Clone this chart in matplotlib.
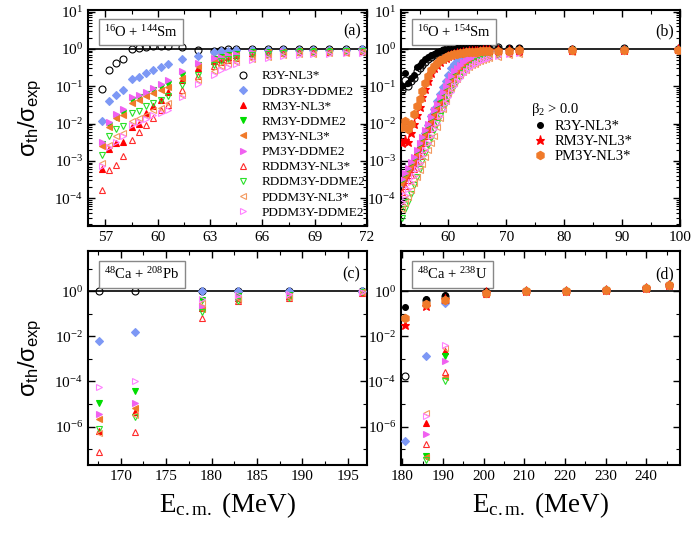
import numpy as np
import matplotlib
matplotlib.use('Agg')
import matplotlib.pyplot as plt
from matplotlib.ticker import LogLocator, MultipleLocator, NullFormatter

nan = np.nan

# ---------------- panel (a): 16O + 144Sm ----------------
E_a = [56.8, 57.2, 57.6, 58.0, 58.5, 58.9, 59.3, 59.7, 60.2, 60.6, 61.4, 62.3,
       63.2, 63.6, 64.0, 64.5, 65.4, 66.3, 67.2, 68.1, 68.9, 69.8, 70.8, 71.7]
a_r3y_nl3 = [0.083, 0.27, 0.43, 0.53, 1.0, 1.05, 1.1, 1.18, 1.2, 1.18, 1.1, 0.92,
             0.88, 0.95, 1.0, 1.0, 1.0, 1.0, 1.0, 1.0, 1.0, 1.0, 1.0, 1.0]
a_ddr3y_ddme2 = [0.012, 0.039, 0.059, 0.080, 0.158, 0.18, 0.22, 0.27, 0.32, 0.39, 0.54, 0.66,
                 0.81, 0.88, 0.90, 0.92, 0.93, 0.94, 0.95, 0.95, 0.96, 0.96, 0.96, 0.97]
a_rm3y_nl3 = [6e-4, 2.1e-3, 3.1e-3, 3.3e-3, 8.3e-3, 0.010, 0.019, 0.030, 0.043, 0.068, 0.148, 0.30,
              0.48, 0.54, 0.62, 0.68, 0.76, 0.80, 0.83, 0.85, 0.86, 0.87, 0.88, 0.89]
a_rm3y_ddme2 = [2.8e-3, 9e-3, 0.015, 0.019, 0.043, 0.051, 0.062, 0.080, 0.094, 0.115, 0.20, 0.37,
                0.53, 0.60, 0.68, 0.72, 0.80, 0.83, 0.85, 0.87, 0.88, 0.89, 0.90, 0.90]
a_pm3y_nl3 = [2.5e-3, 8.3e-3, 0.014, 0.017, 0.035, 0.043, 0.053, 0.065, 0.077, 0.094, 0.17, 0.34,
              0.50, 0.56, 0.64, 0.70, 0.78, 0.82, 0.84, 0.86, 0.87, 0.88, 0.89, 0.90]
a_pm3y_ddme2 = [3.3e-3, 0.011, 0.018, 0.024, 0.050, 0.059, 0.072, 0.092, 0.113, 0.148, 0.26, 0.41,
                0.56, 0.62, 0.70, 0.75, 0.82, 0.85, 0.87, 0.88, 0.89, 0.90, 0.90, 0.91]
a_rddm3y_nl3 = [1.7e-4, 5.7e-4, 7.8e-4, 1.35e-3, 3.6e-3, 6.1e-3, 9e-3, 0.014, 0.023, 0.032, 0.080, 0.19,
                0.34, 0.44, 0.50, 0.56, 0.66, 0.72, 0.77, 0.80, 0.82, 0.84, 0.85, 0.86]
a_rddm3y_ddme2 = [1.4e-3, 4.5e-3, 7.2e-3, 8.7e-3, 0.019, 0.022, 0.029, 0.035, 0.043, 0.053, 0.11, 0.20,
                  0.37, 0.46, 0.52, 0.58, 0.68, 0.74, 0.78, 0.80, 0.82, 0.84, 0.86, 0.87]
a_pddm3y_nl3 = [9e-4, 2.7e-3, 4.5e-3, 5.7e-3, 0.012, 0.014, 0.017, 0.023, 0.026, 0.035, 0.058, 0.15,
                0.25, 0.34, 0.40, 0.45, 0.55, 0.62, 0.68, 0.72, 0.75, 0.77, 0.79, 0.80]
a_pddm3y_ddme2 = [7.5e-4, 2.4e-3, 3.3e-3, 4.5e-3, 9e-3, 0.011, 0.013, 0.017, 0.019, 0.023, 0.050, 0.115,
                  0.20, 0.27, 0.33, 0.40, 0.50, 0.58, 0.64, 0.68, 0.72, 0.74, 0.76, 0.78]

# ---------------- panel (b): 16O + 154Sm ----------------
E_b = [52.0, 52.5, 53.0, 53.5, 54.0, 54.5, 55.0, 55.5, 56.0, 56.5, 57.0, 57.5,
       58.0, 58.5, 59.0, 59.5, 60.0, 60.5, 61.0, 61.5, 62.0, 62.5, 63.0, 63.5,
       64.0, 64.5, 65.0, 65.5, 66.0, 66.5, 67.0, 68.6, 70.4, 72.2, 81.4, 90.4, 99.6]
b_r3y_nl3 = [0.08, 0.15, 0.10, 0.14, 0.17, 0.25, 0.30, 0.38, 0.45, 0.52, 0.60, 0.68,
             0.76, 0.85, 0.92, 0.98, 1.03, 1.06, 1.08, 1.10, 1.12, 1.12, 1.13, 1.14,
             1.14, 1.15, 1.15, 1.14, 1.14, 1.13, 1.13, 1.10, 1.06, 1.08, 1.02, 1.03, 1.01]
b_ddr3y_ddme2 = [2.5e-4, 3.5e-4, 5e-4, 6.5e-4, 8.5e-4, 1.3e-3, 2.2e-3, 3.5e-3, 5.5e-3, 9e-3, 0.016, 0.025,
                 0.04, 0.06, 0.095, 0.14, 0.20, 0.30, 0.40, 0.48, 0.56, 0.62, 0.68, 0.72,
                 0.76, 0.79, 0.81, 0.83, 0.85, 0.86, 0.87, 0.90, 0.91, 0.92, 0.94, 0.96, 0.97]
b_rm3y_nl3 = [3e-4, 4.2e-4, 6e-4, 8.5e-4, 1.2e-3, 1.8e-3, 2.7e-3, 4e-3, 6e-3, 9e-3, 0.014, 0.021,
              0.031, 0.045, 0.065, 0.09, 0.125, 0.17, 0.23, 0.29, 0.36, 0.42, 0.48, 0.54,
              0.59, 0.63, 0.67, 0.70, 0.73, 0.75, 0.77, 0.82, 0.86, 0.88, 0.92, 0.94, 0.95]
b_rm3y_ddme2 = [2.7e-4, 3.8e-4, 5.4e-4, 7.7e-4, 1.1e-3, 1.6e-3, 2.4e-3, 3.6e-3, 5.4e-3, 8.1e-3, 0.0126, 0.019,
                0.028, 0.041, 0.059, 0.082, 0.115, 0.16, 0.21, 0.27, 0.34, 0.40, 0.46, 0.52,
                0.57, 0.61, 0.65, 0.68, 0.71, 0.73, 0.75, 0.81, 0.85, 0.87, 0.91, 0.93, 0.95]
b_pm3y_nl3 = [2.4e-4, 3.4e-4, 4.8e-4, 6.8e-4, 9.6e-4, 1.4e-3, 2.2e-3, 3.2e-3, 4.8e-3, 7.2e-3, 0.011, 0.017,
              0.025, 0.036, 0.052, 0.073, 0.10, 0.14, 0.19, 0.25, 0.31, 0.37, 0.43, 0.49,
              0.54, 0.58, 0.62, 0.66, 0.69, 0.72, 0.74, 0.80, 0.84, 0.86, 0.90, 0.93, 0.94]
b_pm3y_ddme2 = [3.3e-4, 4.6e-4, 6.6e-4, 9.4e-4, 1.3e-3, 2e-3, 3e-3, 4.4e-3, 6.6e-3, 9.9e-3, 0.015, 0.023,
                0.034, 0.05, 0.071, 0.099, 0.137, 0.19, 0.25, 0.31, 0.38, 0.44, 0.50, 0.56,
                0.61, 0.65, 0.69, 0.72, 0.74, 0.76, 0.78, 0.83, 0.87, 0.89, 0.92, 0.94, 0.96]
b_rddm3y_nl3 = [1.5e-4, 2.1e-4, 3e-4, 4.2e-4, 6e-4, 9e-4, 1.35e-3, 2e-3, 3e-3, 4.5e-3, 7e-3, 0.0105,
                0.016, 0.023, 0.034, 0.048, 0.068, 0.095, 0.13, 0.17, 0.22, 0.27, 0.32, 0.37,
                0.42, 0.47, 0.51, 0.55, 0.58, 0.61, 0.64, 0.72, 0.78, 0.82, 0.88, 0.91, 0.93]
b_rddm3y_ddme2 = [3e-5, 5e-5, 8e-5, 1.3e-4, 2.2e-4, 3.6e-4, 6e-4, 1e-3, 1.6e-3, 2.6e-3, 4.2e-3, 6.7e-3,
                  0.0105, 0.016, 0.024, 0.036, 0.052, 0.075, 0.10, 0.14, 0.18, 0.23, 0.28, 0.33,
                  0.38, 0.43, 0.47, 0.51, 0.55, 0.58, 0.61, 0.70, 0.76, 0.80, 0.87, 0.90, 0.92]
b_pddm3y_nl3 = [5e-5, 7.5e-5, 1.1e-4, 1.7e-4, 2.5e-4, 3.8e-4, 5.7e-4, 8.5e-4, 1.3e-3, 2e-3, 3e-3, 4.5e-3,
                8e-3, 0.014, 0.025, 0.04, 0.065, 0.09, 0.12, 0.16, 0.20, 0.24, 0.28, 0.32,
                0.36, 0.40, 0.44, 0.47, 0.50, 0.53, 0.56, 0.62, 0.70, 0.75, 0.84, 0.88, 0.90]
b_pddm3y_ddme2 = [8e-5, 1.2e-4, 1.8e-4, 2.7e-4, 4e-4, 6e-4, 9e-4, 1.35e-3, 2e-3, 3e-3, 4.6e-3, 7e-3,
                  0.0105, 0.016, 0.024, 0.035, 0.05, 0.072, 0.10, 0.135, 0.17, 0.21, 0.26, 0.30,
                  0.35, 0.39, 0.43, 0.47, 0.51, 0.54, 0.57, 0.66, 0.73, 0.78, 0.86, 0.89, 0.91]
# beta2 > 0 (deformed target)
b_def_r3y_nl3 = [0.10, 0.22, 0.12, 0.17, 0.20, 0.33, 0.38, 0.45, 0.52, 0.60, 0.68, 0.75,
                 0.82, 0.88, 0.92, 0.95, 0.98, 1.00, 1.02, 1.03, 1.05, 1.05, 1.06, 1.07,
                 1.07, 1.08, 1.08, 1.08, 1.08, 1.08, 1.08, 1.08, 1.05, 1.07, 1.00, 1.02, 1.00]
b_def_rm3y_nl3 = [3e-3, 3.6e-3, 3.2e-3, 5.5e-3, 0.010, 0.017, 0.028, 0.05, 0.085, 0.14, 0.22, 0.30,
                  0.38, 0.45, 0.52, 0.58, 0.63, 0.68, 0.72, 0.76, 0.79, 0.82, 0.84, 0.86,
                  0.88, 0.89, 0.90, 0.90, 0.91, 0.91, 0.92, 0.93, 0.93, 0.94, 0.95, 0.96, 0.97]
b_def_pm3y_nl3 = [8e-3, 0.012, 7e-3, 0.010, 0.018, 0.03, 0.045, 0.075, 0.12, 0.19, 0.27, 0.35,
                  0.43, 0.50, 0.55, 0.60, 0.64, 0.68, 0.71, 0.74, 0.76, 0.78, 0.80, 0.82,
                  0.83, 0.84, 0.85, 0.86, 0.87, 0.87, 0.88, 0.90, 0.90, 0.92, 0.93, 0.95, 0.96]

# ---------------- panel (c): 48Ca + 208Pb ----------------
E_c = [167.6, 171.6, 178.9, 182.9, 188.5, 196.5]
c_r3y_nl3 = [1.05, 1.0, 1.0, 1.02, 1.0, 1.0]
c_ddr3y_ddme2 = [5.9e-3, 0.016, 0.98, 0.98, 0.97, 0.98]
c_rm3y_nl3 = [6.4e-7, 4.6e-6, 0.18, 0.48, 0.62, 0.90]
c_rm3y_ddme2 = [1.1e-5, 3.6e-5, 0.39, 0.60, 0.70, 0.92]
c_pm3y_nl3 = [2.1e-6, 6.6e-6, 0.16, 0.45, 0.60, 0.90]
c_pm3y_ddme2 = [3.8e-6, 1.1e-5, 0.23, 0.55, 0.66, 0.92]
c_rddm3y_nl3 = [7.4e-8, 6e-7, 0.067, 0.35, 0.50, 0.85]
c_rddm3y_ddme2 = [7.6e-7, 2.8e-6, 0.12, 0.38, 0.52, 0.88]
c_pddm3y_nl3 = [5e-7, 3.2e-6, 0.30, 0.50, 0.55, 0.88]
c_pddm3y_ddme2 = [5.6e-5, 1e-4, 0.43, 0.65, 0.72, 0.93]

# ---------------- panel (d): 48Ca + 238U ----------------
E_d = [180.7, 185.8, 190.6, 200.5, 210.4, 220.3, 230.2, 239.9, 245.5]
d_r3y_nl3 = [1.8e-4, 0.42, 0.60, 0.92, 1.0, 1.0, 1.1, 1.35, 1.9]
d_ddr3y_ddme2 = [2.2e-7, 1.4e-3, 0.30, 0.88, 1.0, 1.0, 1.1, 1.35, 1.9]
d_rm3y_nl3 = [nan, 1.4e-6, 2.2e-3, 0.80, 0.98, 1.0, 1.08, 1.33, 1.85]
d_rm3y_ddme2 = [nan, 5e-8, 1.4e-3, 0.80, 0.98, 1.0, 1.08, 1.33, 1.85]
d_pm3y_nl3 = [nan, 4.5e-8, 1.5e-4, 0.80, 0.98, 1.0, 1.08, 1.33, 1.85]
d_pm3y_ddme2 = [nan, 4.8e-7, 8e-4, 0.80, 0.98, 1.0, 1.08, 1.33, 1.85]
d_rddm3y_nl3 = [nan, 1.7e-7, 2.7e-4, 0.78, 0.97, 1.0, 1.07, 1.32, 1.85]
d_rddm3y_ddme2 = [nan, 3.2e-8, 1.1e-4, 0.78, 0.97, 1.0, 1.07, 1.32, 1.85]
d_pddm3y_nl3 = [nan, 4e-6, 3e-3, 0.80, 0.97, 1.0, 1.07, 1.32, 1.85]
d_pddm3y_ddme2 = [nan, 2.9e-6, 4e-3, 0.80, 0.97, 1.0, 1.07, 1.32, 1.85]
d_def_r3y_nl3 = [0.20, 0.47, 0.71, 1.0, 1.0, 1.0, 1.1, 1.35, 1.9]
d_def_rm3y_nl3 = [0.032, 0.22, 0.45, 0.90, 1.0, 1.0, 1.1, 1.35, 1.9]
d_def_pm3y_nl3 = [0.063, 0.28, 0.40, 0.85, 1.0, 1.0, 1.1, 1.35, 1.9]

names = ['R3Y-NL3*', 'DDR3Y-DDME2', 'RM3Y-NL3*', 'RM3Y-DDME2', 'PM3Y-NL3*',
         'PM3Y-DDME2', 'RDDM3Y-NL3*', 'RDDM3Y-DDME2', 'PDDM3Y-NL3*', 'PDDM3Y-DDME2']
def_names = ['R3Y-NL3*', 'RM3Y-NL3*', 'PM3Y-NL3*']

styles = [
    dict(marker='o', mfc='none', mec='k', ms=5),
    dict(marker='D', mfc='#7d98f5', mec='#7d98f5', ms=4.2),
    dict(marker='^', mfc='#ff0000', mec='#ff0000', ms=5),
    dict(marker='v', mfc='#00dd00', mec='#00dd00', ms=5),
    dict(marker='<', mfc='#f07a2a', mec='#f07a2a', ms=5),
    dict(marker='>', mfc='#f060f0', mec='#f060f0', ms=5),
    dict(marker='^', mfc='none', mec='#ff2a2a', ms=5),
    dict(marker='v', mfc='none', mec='#2ae02a', ms=5),
    dict(marker='<', mfc='none', mec='#f39a60', ms=5),
    dict(marker='>', mfc='none', mec='#ff80ff', ms=5),
]
def_styles = [
    dict(marker='o', mfc='k', mec='k', ms=4.2),
    dict(marker='*', mfc='#ff0000', mec='#ff0000', ms=6.5),
    dict(marker='h', mfc='#f07a2a', mec='#f07a2a', ms=6),
]

panels = [
    (E_a, [a_r3y_nl3, a_ddr3y_ddme2, a_rm3y_nl3, a_rm3y_ddme2, a_pm3y_nl3, a_pm3y_ddme2,
           a_rddm3y_nl3, a_rddm3y_ddme2, a_pddm3y_nl3, a_pddm3y_ddme2], None),
    (E_b, [b_r3y_nl3, b_ddr3y_ddme2, b_rm3y_nl3, b_rm3y_ddme2, b_pm3y_nl3, b_pm3y_ddme2,
           b_rddm3y_nl3, b_rddm3y_ddme2, b_pddm3y_nl3, b_pddm3y_ddme2],
     [b_def_r3y_nl3, b_def_rm3y_nl3, b_def_pm3y_nl3]),
    (E_c, [c_r3y_nl3, c_ddr3y_ddme2, c_rm3y_nl3, c_rm3y_ddme2, c_pm3y_nl3, c_pm3y_ddme2,
           c_rddm3y_nl3, c_rddm3y_ddme2, c_pddm3y_nl3, c_pddm3y_ddme2], None),
    (E_d, [d_r3y_nl3, d_ddr3y_ddme2, d_rm3y_nl3, d_rm3y_ddme2, d_pm3y_nl3, d_pm3y_ddme2,
           d_rddm3y_nl3, d_rddm3y_ddme2, d_pddm3y_nl3, d_pddm3y_ddme2],
     [d_def_r3y_nl3, d_def_rm3y_nl3, d_def_pm3y_nl3]),
]
reactions = [r'$^{16}$O + $^{144}$Sm', r'$^{16}$O + $^{154}$Sm',
             r'$^{48}$Ca + $^{208}$Pb', r'$^{48}$Ca + $^{238}$U']
tags = ['(a)', '(b)', '(c)', '(d)']
xlims = [(56.0, 72), (51.8, 100), (166.4, 197.1), (179.7, 248.3)]
xmajor = [3, 10, 5, 10]

plt.rcParams['font.family'] = ['Liberation Serif', 'DejaVu Serif']
plt.rcParams['mathtext.fontset'] = 'custom'
plt.rcParams['mathtext.rm'] = 'Liberation Serif'
plt.rcParams['mathtext.it'] = 'Liberation Serif:italic'
plt.rcParams['mathtext.bf'] = 'Liberation Serif:bold'
plt.rcParams['mathtext.sf'] = 'Liberation Sans'

W, H = 697, 534
fig = plt.figure(figsize=(W / 100, H / 100), dpi=100)
rects = [(88, 367, 10, 226), (401, 680, 10, 226), (88, 367, 251, 465), (401, 680, 251, 465)]

axes = []
for i, (l, r, t, b) in enumerate(rects):
    ax = fig.add_axes([l / W, 1 - b / H, (r - l) / W, (b - t) / H])
    axes.append(ax)
    E, sph, dfm = panels[i]
    ax.axhline(1.0, color='k', lw=1.2, zorder=1)
    for name, st, y in zip(names, styles, sph):
        ax.plot(E, y, ls='none', mew=0.8, label=name, zorder=3, **st)
    if dfm is not None:
        for name, st, y in zip(def_names, def_styles, dfm):
            ax.plot(E, y, ls='none', mew=0.8, label=name, zorder=4, **st)
    ax.set_yscale('log')
    ax.set_xlim(*xlims[i])
    ax.xaxis.set_major_locator(MultipleLocator(xmajor[i]))
    ax.xaxis.set_minor_locator(MultipleLocator(xmajor[i] / 2))
    if i < 2:
        ax.set_ylim(1.8e-5, 11)
        ax.yaxis.set_major_locator(LogLocator(base=10, numticks=20))
        ax.yaxis.set_minor_locator(LogLocator(base=10, subs=np.arange(2, 10), numticks=20))
    else:
        ax.set_ylim(2e-8, 60)
        ax.yaxis.set_major_locator(LogLocator(base=100, numticks=20))
        ax.yaxis.set_minor_locator(LogLocator(base=10, subs=[1.0], numticks=20))
    ax.yaxis.set_minor_formatter(NullFormatter())
    ax.tick_params(which='both', direction='in', top=True, right=True, labelsize=11)
    ax.tick_params(which='major', length=5, width=1)
    ax.tick_params(which='minor', length=3, width=0.8)
    for s in ax.spines.values():
        s.set_linewidth(1.5)
    ax.text(0.058, 0.9 if i < 2 else 0.89, reactions[i], transform=ax.transAxes,
            ha='left', va='center', fontsize=10.5,
            bbox=dict(boxstyle='square,pad=0.35', fc='white', ec='#888888', lw=1))
    ax.text(0.945, 0.9 if i < 2 else 0.89, tags[i], transform=ax.transAxes,
            ha='center', va='center', fontsize=11.5)

# legends
h, lab = axes[0].get_legend_handles_labels()
axes[0].legend(h, lab, loc='lower left', bbox_to_anchor=(0.5, 0.0), frameon=False,
               fontsize=9.5, handletextpad=0.8, labelspacing=0.22, borderaxespad=0.15,
               handlelength=1.2)
h, lab = axes[1].get_legend_handles_labels()
leg = axes[1].legend(h[10:], lab[10:], loc='upper left', bbox_to_anchor=(0.42, 0.64),
                     frameon=False, fontsize=10.5, title=r'β$_2$ > 0.0', title_fontsize=10.5,
                     handletextpad=0.4, labelspacing=0.12, handlelength=1.2)
leg._legend_box.align = 'left'

# axis labels
for yc in [(10 + 226) / 2, (251 + 465) / 2]:
    fig.text(30 / W, 1 - yc / H, r'σ$_{\mathsf{th}}$/σ$_{\mathsf{exp}}$', rotation=90,
             ha='center', va='center', fontsize=17, family='Liberation Sans')
for xc in [(88 + 367) / 2, (401 + 680) / 2]:
    fig.text(xc / W, 1 - 505 / H, r'E$_{\rm c.m.}$ (MeV)', ha='center', va='center',
             fontsize=19.5)

fig.savefig('out.png', dpi=100)
